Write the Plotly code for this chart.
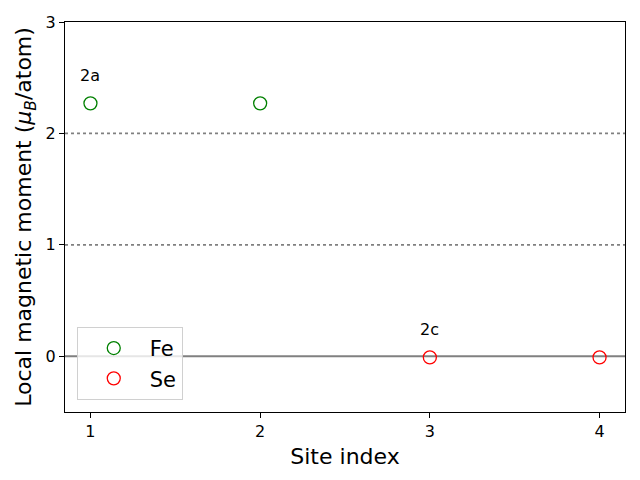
import plotly.graph_objects as go

fe_sites = [1, 2]
fe_moments = [2.27, 2.27]
se_sites = [3, 4]
se_moments = [-0.01, -0.01]
annot_labels = ["2a", "2c"]
annot_x = [1, 3]
annot_y = [2.52, 0.24]
x_ticks = [1, 2, 3, 4]
y_ticks = [0, 1, 2, 3]

FONT = "DejaVu Sans"

fig = go.Figure()
fig.add_trace(go.Scatter(x=fe_sites, y=fe_moments, mode="markers", name="Fe",
                         marker=dict(symbol="circle-open", size=13, color="green", line=dict(width=1.3))))
fig.add_trace(go.Scatter(x=se_sites, y=se_moments, mode="markers", name="Se",
                         marker=dict(symbol="circle-open", size=13, color="red", line=dict(width=1.3))))

fig.add_hline(y=0, line=dict(color="gray", width=2), layer="below")
for yv in [1, 2]:
    fig.add_hline(y=yv, line=dict(color="gray", width=1.8, dash="dot"), layer="below")

for t, xv, yv in zip(annot_labels, annot_x, annot_y):
    fig.add_annotation(x=xv, y=yv, text=t, showarrow=False,
                       font=dict(family=FONT, size=16, color="black"))

axis_common = dict(showline=True, linecolor="black", linewidth=1.3, mirror=True,
                   ticks="outside", ticklen=5, tickwidth=1, tickcolor="black",
                   showgrid=False, zeroline=False,
                   tickfont=dict(family=FONT, size=16, color="black"))

fig.update_xaxes(range=[0.85, 4.15], tickvals=x_ticks,
                 title=dict(text="Site index", font=dict(family=FONT, size=22, color="black"), standoff=8),
                 **axis_common)
fig.update_yaxes(range=[-0.5, 3], tickvals=y_ticks,
                 title=dict(text="Local magnetic moment (<i>μ</i><sub><i>B</i></sub>/atom)",
                            font=dict(family=FONT, size=22, color="black"), standoff=7),
                 **axis_common)

fig.update_layout(width=640, height=480, margin=dict(l=65, r=15, t=22, b=68),
                  plot_bgcolor="white", paper_bgcolor="white",
                  font=dict(family=FONT),
                  legend=dict(x=0.021, y=0.031, xanchor="left", yanchor="bottom",
                              bgcolor="rgba(255,255,255,0.8)", bordercolor="#d0d0d0", borderwidth=1,
                              font=dict(family=FONT, size=21, color="black"),
                              itemwidth=62, tracegroupgap=2))

fig.write_html("out.html")
